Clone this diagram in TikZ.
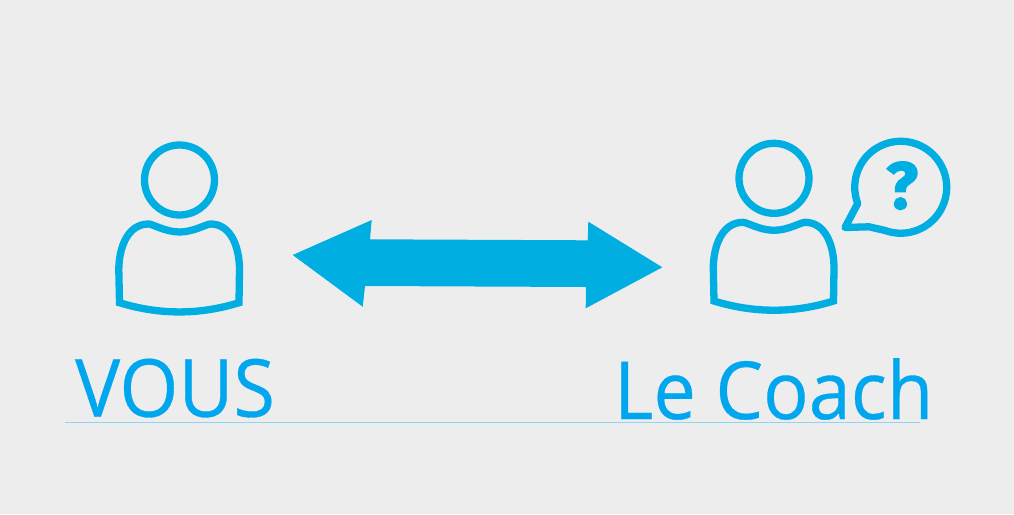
\documentclass[tikz,border=0pt]{standalone}
\usepackage{fontspec}
\setmainfont[FakeStretch=0.945,FakeBold=0.4]{Open Sans}
\newfontfamily\qfont[FakeBold=2.2]{Fira Sans}
\definecolor{bg}{HTML}{EDEDED}
\definecolor{icon}{HTML}{00AEE2}
\definecolor{txt}{HTML}{00A6EE}
\definecolor{rule}{HTML}{8FD4F3}
\tikzset{
  iconline/.style={draw=icon,line width=7.3pt,line join=round},
  label/.style={text=txt,inner sep=0pt,anchor=base west,font=\fontsize{80}{80}\selectfont},
  personbody/.pic={
    \draw[iconline,line join=miter] (-60,122.7) -- (-60.7,90)
      .. controls (-60.7,68) and (-52,44) .. (-31,44)
      .. controls (-27,44) and (-14,52) .. (0,52)
      .. controls (14,52) and (27,44) .. (31,44)
      .. controls (52,44) and (60,68) .. (60,90)
      -- (59.5,122.7)
      .. controls (20,135) and (-20,135) .. (-60,122.7) -- cycle;
  }
}
\begin{document}
\begin{tikzpicture}[x=1pt,y=-1pt]
\useasboundingbox (0,0) rectangle (1014,514);
\fill[bg] (0,0) rectangle (1014,514);
% left person
\node[circle,iconline,minimum size=70pt,inner sep=0pt] (headA) at (179.5,180) {};
\pic at (179.5,180) {personbody};
% right person
\node[circle,iconline,minimum size=70pt,inner sep=0pt] (headB) at (774,178.3) {};
\pic at (774,178.3) {personbody};
% double arrow
\fill[icon] (292.7,255) -- (371.7,220) -- (370,239.3) -- (587.7,240.3) -- (588.3,221.7)
  -- (662.3,267.3) -- (585.7,308.3) -- (586,287) -- (365,286) -- (362.7,306.7) -- cycle;
% speech bubble
\draw[iconline] (857.7,203.5)
  arc[start angle=200.7,end angle=-110,radius=46pt]
  .. controls (877,228) .. (869,226.8) -- (845,227.5) -- cycle;
\node[text=icon,inner sep=0pt,font=\qfont\bfseries\fontsize{66}{66}\selectfont] (qm) at (902,185.7) {?};
% labels
\node[label] (vous) at (75,416.7) {VOUS};
\node[label] (coach) at (614,419) {Le Coach};
\coordinate (ruleA) at (65,422.7);
\coordinate (ruleB) at (920,422.7);
\draw[rule,line width=1pt] (ruleA) -- (ruleB);
\end{tikzpicture}
\end{document}
